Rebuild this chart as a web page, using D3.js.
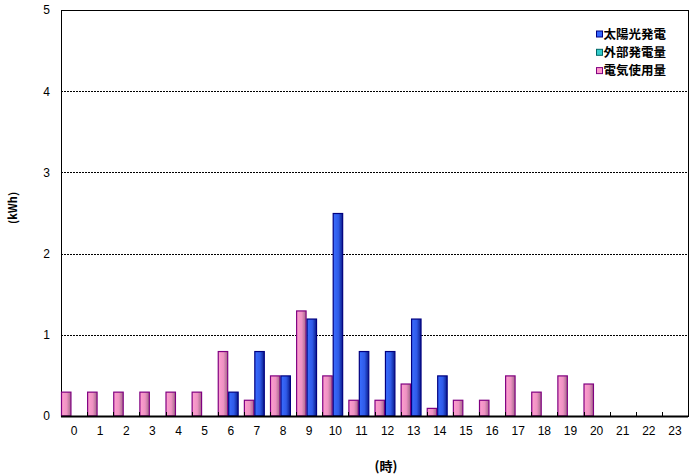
<!DOCTYPE html>
<html><head><meta charset="utf-8">
<script src="https://cdn.jsdelivr.net/npm/d3@7"></script>
<style>body{margin:0;background:#fff;} svg{display:block;}</style>
</head><body>
<svg id="c" width="696" height="476"></svg>
<script>
const hours = ["0","1","2","3","4","5","6","7","8","9","10","11","12","13","14","15","16","17","18","19","20","21","22","23"];
const usage = [0.3,0.3,0.3,0.3,0.3,0.3,0.8,0.2,0.5,1.3,0.5,0.2,0.2,0.4,0.1,0.2,0.2,0.5,0.3,0.5,0.4,0,0,0];
const solar = [0,0,0,0,0,0,0.3,0.8,0.5,1.2,2.5,0.8,0.8,1.2,0.5,0,0,0,0,0,0,0,0,0];
const external = [0,0,0,0,0,0,0,0,0,0,0,0,0,0,0,0,0,0,0,0,0,0,0,0];
const yTicks = [0,1,2,3,4,5];
const legendNames = ["太陽光発電","外部発電量","電気使用量"];

const svg = d3.select("#c");
const L=61, R=688, T=10, B=416;
const x = d3.scaleBand().domain(hours).range([L,R]).padding(0);
const y = d3.scaleLinear().domain([0,5]).range([B,T]);
const bw = x.bandwidth()*0.4;

const defs = svg.append("defs");
function grad(id, stops){
  const g = defs.append("linearGradient").attr("id",id).attr("x1","0%").attr("x2","100%").attr("y1","0%").attr("y2","0%");
  stops.forEach(s=>g.append("stop").attr("offset",s[0]).attr("stop-color",s[1]));
}
grad("gBlue",[["0%","#3a6dff"],["55%","#2f5ae8"],["100%","#0a1c8a"]]);
grad("gPink",[["0%","#ff9fd0"],["55%","#ee92c2"],["100%","#a06888"]]);
grad("gCyan",[["0%","#40e0e0"],["100%","#168888"]]);

// plot frame
svg.append("rect").attr("x",L).attr("y",T).attr("width",R-L).attr("height",B-T)
  .attr("fill","none").attr("stroke","#000").attr("stroke-width",1).attr("shape-rendering","crispEdges");

// gridlines
svg.append("g").selectAll("line").data(yTicks.filter(d=>d>0&&d<5)).join("line")
  .attr("x1",L).attr("x2",R).attr("y1",d=>Math.round(y(d))+0.5).attr("y2",d=>Math.round(y(d))+0.5)
  .attr("stroke","#000").attr("stroke-dasharray","2,1").attr("stroke-width",1);

// y axis labels
const yAxis = d3.axisLeft(y).tickValues(yTicks).tickSize(0).tickPadding(11).tickFormat(d3.format("d"));
const ga = svg.append("g").attr("transform",`translate(${L},0)`).call(yAxis);
ga.select(".domain").remove();
ga.selectAll("text").attr("font-family","Liberation Sans, Arial, sans-serif").attr("font-size",12).attr("fill","#000");

// bars
function bars(data, off, fill, stroke){
  svg.append("g").selectAll("rect").data(data.map((v,i)=>({h:hours[i],v}))).join("rect")
    .filter(d=>d.v>0)
    .attr("x",d=>x(d.h)+off+0.5).attr("y",d=>y(d.v)+0.5)
    .attr("width",bw-1).attr("height",d=>B-y(d.v)-0.5)
    .attr("fill",fill).attr("stroke",stroke).attr("stroke-width",1.2);
}
bars(usage, 0, "url(#gPink)", "#800080");
bars(solar, bw, "url(#gBlue)", "#000080");
bars(external, 2*bw, "url(#gCyan)", "#006666");

// x axis line and labels
svg.append("line").attr("x1",L).attr("x2",R).attr("y1",B+0.5).attr("y2",B+0.5).attr("stroke","#000").attr("stroke-width",2);
const xAxis = d3.axisBottom(x).tickSize(0).tickPadding(10);
const gx = svg.append("g").attr("transform",`translate(0,${B})`).call(xAxis);
gx.select(".domain").remove();
gx.selectAll("text").attr("font-family","Liberation Sans, Arial, sans-serif").attr("font-size",12).attr("fill","#000");
// inner ticks at category boundaries
svg.append("g").selectAll("line").data(hours.slice(1)).join("line")
  .attr("x1",d=>Math.round(x(d))+0.5).attr("x2",d=>Math.round(x(d))+0.5)
  .attr("y1",B).attr("y2",B-4).attr("stroke","#000");

// titles
svg.append("text").attr("transform",`translate(17,208) rotate(-90)`).attr("text-anchor","middle")
  .attr("font-family","Noto Sans CJK JP, sans-serif").attr("font-weight","bold").attr("font-size",11).text("(kWh)");
svg.append("text").attr("x",386).attr("y",471).attr("text-anchor","middle")
  .attr("font-family","Noto Sans CJK JP, sans-serif").attr("font-weight","bold").attr("font-size",13).text("(時)");

// legend
const lf = ["#3366ff","#33cccc","#ff99cc"], ls=["#000080","#006666","#800080"];
const lg = svg.append("g").attr("transform","translate(595,28.5)");
legendNames.forEach((n,i)=>{
  const gy = i*18.3;
  lg.append("rect").attr("x",1.5).attr("y",gy+2.5).attr("width",6).attr("height",6)
    .attr("fill",lf[i]).attr("stroke",ls[i]).attr("stroke-width",1);
  lg.append("text").attr("x",8.5).attr("y",gy+10).attr("font-family","Noto Sans CJK JP, sans-serif")
    .attr("font-weight","bold").attr("font-size",12.5).attr("fill","#000").text(n);
});
</script>
</body></html>
